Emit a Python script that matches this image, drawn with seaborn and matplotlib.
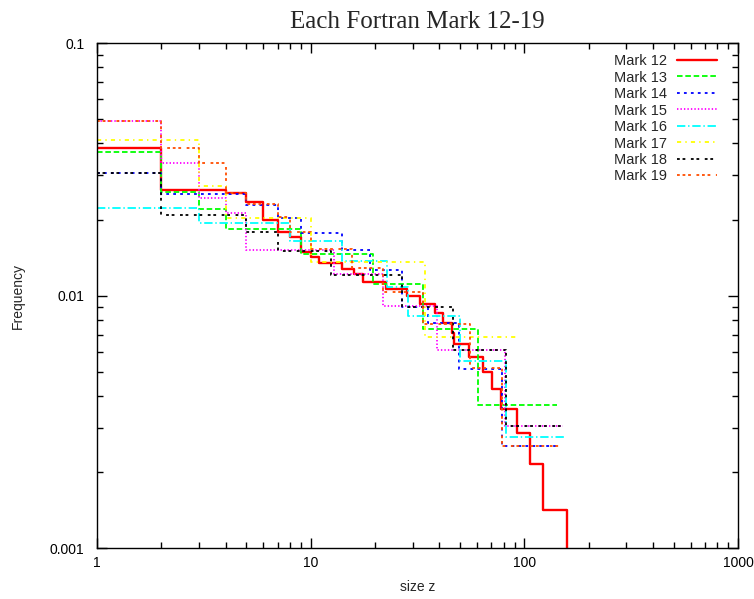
import numpy as np
import pandas as pd
import matplotlib
matplotlib.use('Agg')
import matplotlib.pyplot as plt
import seaborn as sns
from matplotlib.ticker import LogLocator, NullFormatter

# step edges (size z) and frequency of each bin
sizes_12 = [1, 2, 4, 5, 6, 7, 8, 9, 10, 11, 14, 16, 17.6, 22.5, 28.3, 32.5, 38.2,
            41.5, 45.7, 47, 55.2, 63.8, 70.5, 78, 92, 106, 122.6, 157.8]
freq_12 = [0.0383, 0.0262, 0.0255, 0.0234, 0.0199, 0.0178, 0.0171, 0.0149, 0.01417,
           0.01349, 0.01278, 0.01216, 0.01134, 0.01058, 0.00995, 0.00925, 0.00855,
           0.00778, 0.00712, 0.00641, 0.00569, 0.00500, 0.00426, 0.00355, 0.00285,
           0.00215, 0.00142]
tail_12 = 1e-5  # last bin empty, line drops out of the chart

sizes_13 = [1, 2, 3, 4, 9, 19.6, 33.6, 60.9, 142]
freq_13 = [0.0371, 0.0258, 0.0220, 0.0183, 0.01464, 0.01108, 0.00735, 0.00368]

sizes_14 = [1, 2, 5, 7, 9, 14, 18.9, 26.7, 35.5, 49.6, 78.3, 145.7]
freq_14 = [0.0306, 0.0252, 0.0228, 0.0202, 0.0177, 0.0151, 0.01267, 0.00903,
           0.00776, 0.00510, 0.00254]

sizes_15 = [1, 2, 3, 4, 5, 12.8, 21.9, 39.1, 81.2, 152]
freq_15 = [0.0492, 0.0334, 0.0243, 0.0213, 0.0151, 0.0122, 0.00909, 0.00608, 0.00303]

sizes_16 = [1, 3, 8, 14, 22.7, 28.6, 50, 82.5, 155]
freq_16 = [0.0222, 0.0193, 0.0165, 0.01376, 0.01076, 0.00827, 0.00550, 0.00276]

sizes_17 = [1, 3, 4, 10, 34.3, 93.3]
freq_17 = [0.0413, 0.0271, 0.0203, 0.0136, 0.00685]

sizes_18 = [1, 2, 5, 7, 12.5, 26.7, 46.5, 82, 150]
freq_18 = [0.0306, 0.0209, 0.0179, 0.0150, 0.01206, 0.00903, 0.00608, 0.00303]

sizes_19 = [1, 2, 3, 4, 5, 7, 8, 10, 15.6, 21.9, 33.6, 55.6, 78.3, 145]
freq_19 = [0.0492, 0.0383, 0.0334, 0.0255, 0.0230, 0.0205, 0.0179, 0.0153, 0.0128,
           0.0103, 0.00769, 0.00515, 0.00254]

marks = ['Mark 12', 'Mark 13', 'Mark 14', 'Mark 15',
         'Mark 16', 'Mark 17', 'Mark 18', 'Mark 19']
x_ticks = [1, 10, 100, 1000]
x_labels = ['1', '10', '100', '1000']
y_ticks = [0.001, 0.01, 0.1]
y_labels = ['0.001', '0.01', '0.1']

all_sizes = [sizes_12, sizes_13, sizes_14, sizes_15, sizes_16, sizes_17, sizes_18, sizes_19]
all_freq = [freq_12, freq_13, freq_14, freq_15, freq_16, freq_17, freq_18, freq_19]

rows = []
for name, xs, ys in zip(marks, all_sizes, all_freq):
    last = tail_12 if name == 'Mark 12' else ys[-1]
    for x, y in zip(xs, list(ys) + [last]):
        rows.append({'mark': name, 'size': x, 'freq': y})
df = pd.DataFrame(rows)

# gnuplot-like colours and dash patterns
colors = ['#ff0000', '#00ff00', '#0000ff', '#ff00ff',
          '#00ffff', '#ffff00', '#000000', '#ff4d00']
dashes = [None, (4, 2), (2, 3), (1, 1.5), (6, 2, 1, 2),
          (3, 3, 1, 3), (2, 2, 2, 4), (2, 2, 2, 2, 2, 4)]

sns.set_style('ticks')
plt.rcParams['font.family'] = ['Liberation Sans', 'DejaVu Sans']
plt.rcParams['lines.scale_dashes'] = False

fig = plt.figure(figsize=(7.54, 5.99), dpi=100)
ax = fig.add_axes([0.1286, 0.0851, 0.8501, 0.8431])

for i, name in enumerate(marks):
    sub = df[df['mark'] == name]
    ls = '-' if dashes[i] is None else (0, dashes[i])
    sns.lineplot(data=sub, x='size', y='freq', ax=ax, color=colors[i],
                 linewidth=1.7 if i == 0 else 1.3, linestyle=ls,
                 drawstyle='steps-post', estimator=None, sort=False, legend=False)

ax.set_xscale('log')
ax.set_yscale('log')
ax.set_xlim(1, 1000)
ax.set_ylim(0.001, 0.1)
ax.set_xticks(x_ticks, labels=x_labels)
ax.set_yticks(y_ticks, labels=y_labels)
for axis in (ax.xaxis, ax.yaxis):
    axis.set_minor_locator(LogLocator(base=10, subs=np.arange(2, 10)))
    axis.set_minor_formatter(NullFormatter())

ax.tick_params(which='both', direction='in', top=True, right=True, width=1, colors='black')
ax.tick_params(which='major', length=7)
ax.tick_params(which='minor', length=4)
ax.tick_params(axis='x', labelsize=10, pad=6)
ax.tick_params(axis='y', labelsize=10, pad=9)
for sp in ax.spines.values():
    sp.set_linewidth(1.0)
    sp.set_color('black')

ax.set_xlabel('size z', fontsize=10)
ax.set_ylabel('Frequency', fontsize=10)
ax.xaxis.set_label_coords(0.5, -0.063)
ax.yaxis.set_label_coords(-0.112, 0.5)
ax.set_title('Each Fortran Mark 12-19', fontsize=18, family='Liberation Serif', pad=11)

ax.legend(ax.lines, marks, loc='upper right', bbox_to_anchor=(0.967, 0.978),
          frameon=False, markerfirst=False, handlelength=2.74, handletextpad=0.65,
          labelspacing=0.17, borderpad=0, borderaxespad=0, fontsize=10.5)

fig.savefig('out.png', dpi=100)
